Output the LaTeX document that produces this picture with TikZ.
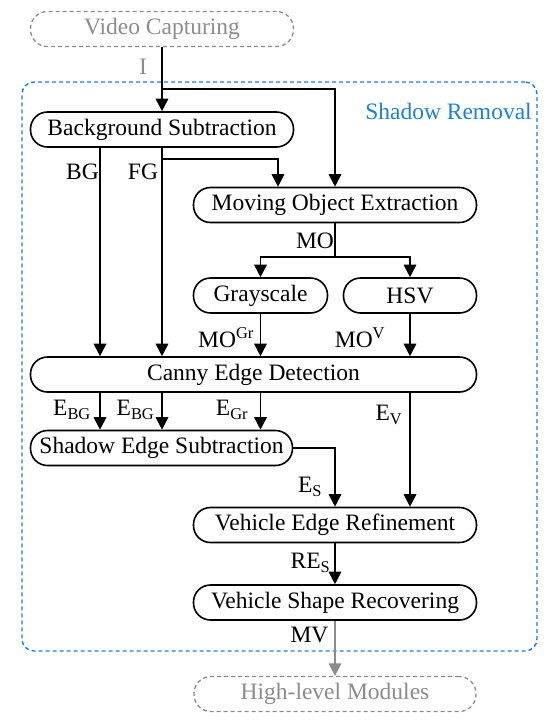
\documentclass[tikz,border=0pt]{standalone}
\usepackage{fontspec}
\setmainfont{Liberation Serif}
\usetikzlibrary{arrows.meta}
\definecolor{srblue}{RGB}{30,128,208}
\definecolor{ghost}{RGB}{140,140,140}
\begin{document}
\begin{tikzpicture}[x=1pt,y=-1pt,
  font=\fontsize{23.5}{28}\selectfont,
  box/.style={draw, line width=1.6pt, rounded corners=17pt, minimum height=35pt, inner sep=0pt},
  ghostbox/.style={box, draw=ghost, text=ghost, line width=1.3pt, dash pattern=on 4pt off 3pt},
  arr/.style={line width=1.7pt, -{Triangle[width=12.5pt,length=12.5pt]}},
  lbl/.style={inner sep=0pt}]
\useasboundingbox (0,0) rectangle (559,721);

% frame
\node[draw=srblue, line width=1.4pt, dash pattern=on 4pt off 3pt, rounded corners=12pt,
      minimum width=515pt, minimum height=569pt, inner sep=0pt] (sr) at (279.5,366.5) {};
\node[lbl, text=srblue] (srt) at (448.5,111) {Shadow Removal};

% boxes
\node[ghostbox, minimum width=263pt] (vc) at (162,29) {Video Capturing};
\node[box, minimum width=263pt] (bs) at (162,129.5) {Background Subtraction};
\node[box, minimum width=283pt] (moe) at (335,205) {Moving Object Extraction};
\node[box, minimum width=134pt] (gray) at (260.5,295.5) {Grayscale};
\node[box, minimum width=133pt] (hsv) at (410,295.5) {HSV};
\node[box, minimum width=446pt] (canny) at (253.5,374.5) {Canny Edge Detection};
\node[box, minimum width=262pt] (ses) at (161.5,448) {Shadow Edge Subtraction};
\node[box, minimum width=283pt] (ver) at (335,525) {Vehicle Edge Refinement};
\node[box, minimum width=283pt] (vsr) at (335,602.5) {Vehicle Shape Recovering};
\node[ghostbox, minimum width=282pt] (hlm) at (335,694) {High-level Modules};

% helper coordinates
\coordinate (xbg) at (100,0);
\coordinate (xfg) at (162,0);
\coordinate (xmo) at (278,0);
\coordinate (xgr) at (260.5,0);
\coordinate (xv) at (410,0);
\coordinate (xc) at (335,0);
\coordinate (ybr) at (0,89);
\coordinate (yfg) at (0,159);
\coordinate (ymo) at (0,257);

% connectors
\draw[arr] (vc) -- (bs);
\draw[arr] (vc.south |- ybr) -| (moe.north);
\draw[arr] (bs.south -| xbg) -- (canny.north -| xbg);
\draw[arr] (bs.south -| xfg) -- (canny.north -| xfg);
\draw[arr] (bs.south |- yfg) -| (moe.north -| xmo);
\draw[line width=1.7pt] (moe.south) -- (moe.south |- ymo);
\draw[arr] (moe.south |- ymo) -| (gray.north);
\draw[arr] (moe.south |- ymo) -| (hsv.north);
\draw[arr] (gray.south) -- (canny.north -| gray.south);
\draw[arr] (hsv.south) -- (canny.north -| hsv.south);
\draw[arr] (canny.south -| xbg) -- (ses.north -| xbg);
\draw[arr] (canny.south -| xfg) -- (ses.north -| xfg);
\draw[arr] (canny.south -| xgr) -- (ses.north -| xgr);
\draw[arr] (ses.east) -| (ver.north -| xc);
\draw[arr] (canny.south -| xv) -- (ver.north -| xv);
\draw[arr] (ver.south -| xc) -- (vsr.north -| xc);
\draw[arr, ghost] (vsr) -- (hlm);

% labels
\node[lbl, text=ghost] (li) at (143,67) {I};
\node[lbl] (lbg) at (82.5,172) {BG};
\node[lbl] (lfg) at (143,172) {FG};
\node[lbl] (lmo) at (315,241) {MO};
\node[lbl] (lmogr) at (226,338) {MO\textsuperscript{Gr}};
\node[lbl] (lmov) at (360,338) {MO\textsuperscript{V}};
\node[lbl] (leb1) at (72,410) {E\textsubscript{BG}};
\node[lbl] (leb2) at (135.5,410) {E\textsubscript{BG}};
\node[lbl] (legr) at (232,410) {E\textsubscript{Gr}};
\node[lbl] (lev) at (389,415) {E\textsubscript{V}};
\node[lbl] (les) at (310,487) {E\textsubscript{S}};
\node[lbl] (lres) at (310.5,563) {RE\textsubscript{S}};
\node[lbl] (lmv) at (309.5,635) {MV};
\end{tikzpicture}
\end{document}
